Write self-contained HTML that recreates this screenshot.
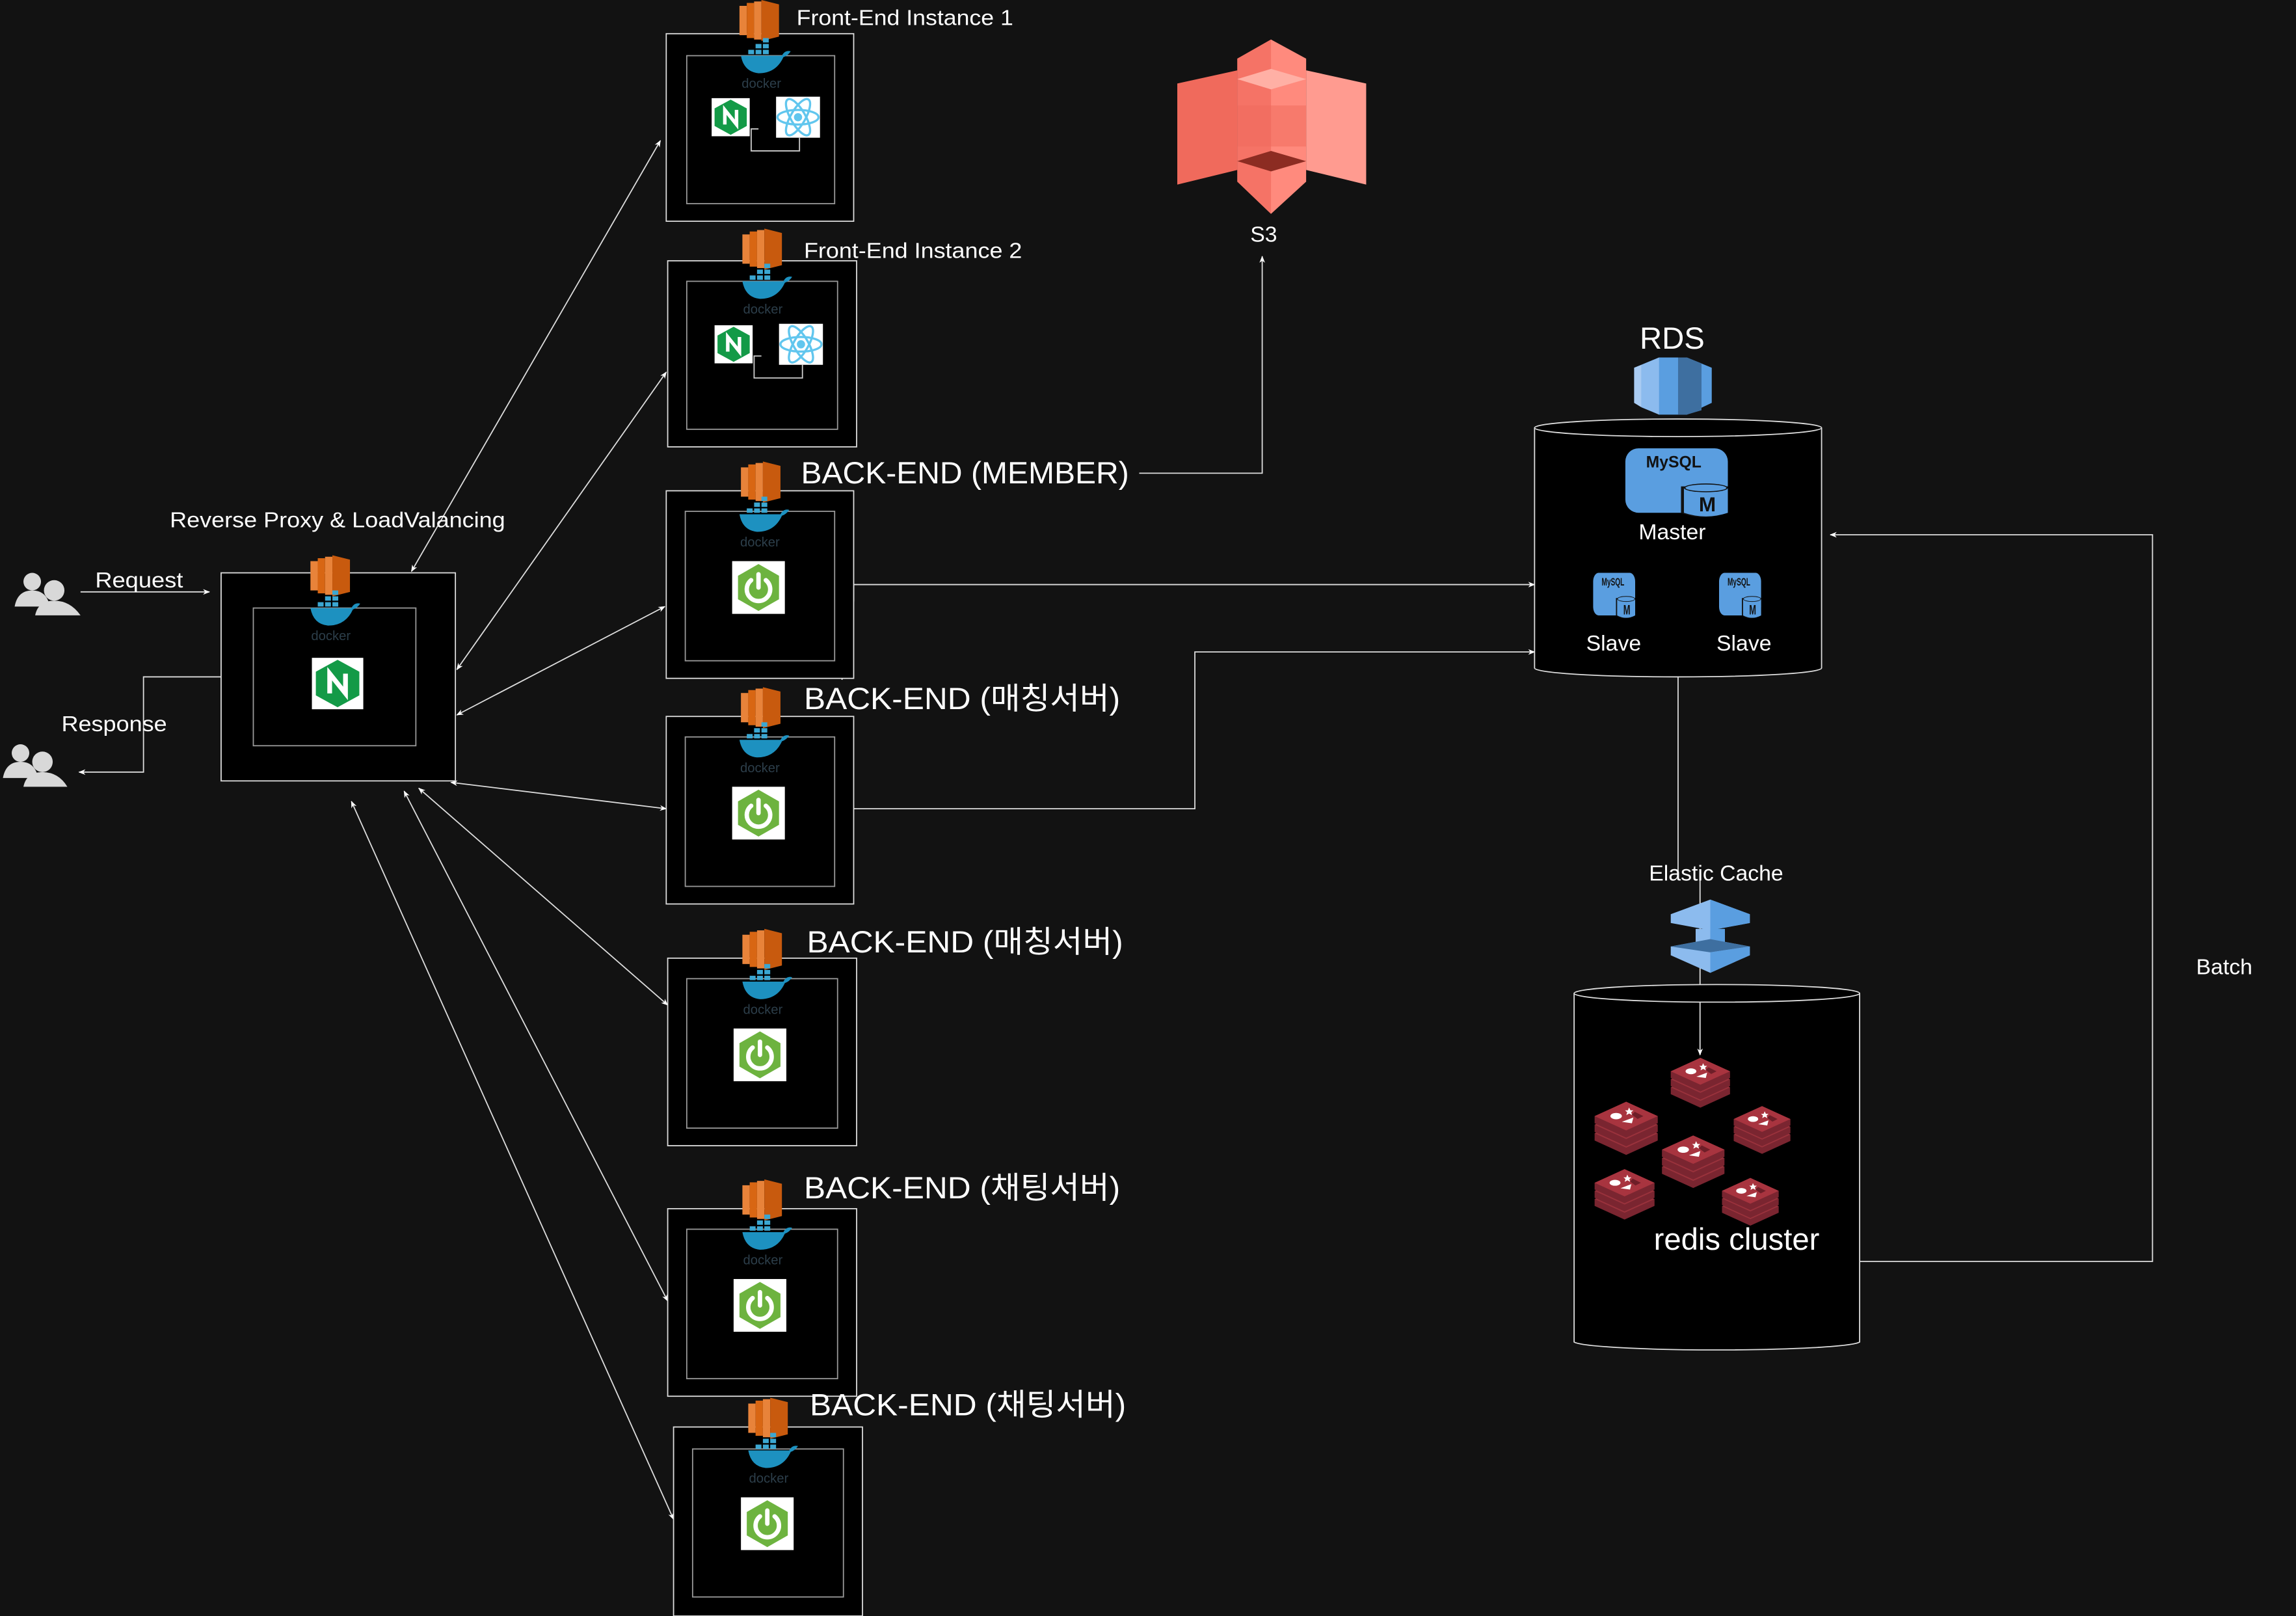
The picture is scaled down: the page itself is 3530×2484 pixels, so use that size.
<!DOCTYPE html>
<html><head><meta charset="utf-8"><style>
html,body{margin:0;padding:0;background:#121212;}
svg{display:block;}
text{font-family:"Liberation Sans","Noto Sans CJK KR",sans-serif;fill:#fff;}
</style></head><body>
<svg width="3530" height="2484" viewBox="0 0 1568 1103" preserveAspectRatio="none" xmlns="http://www.w3.org/2000/svg">
<defs>
<marker id="ar" viewBox="0 0 10 10" refX="9" refY="5" markerWidth="6" markerHeight="6" orient="auto-start-reverse"><path d="M0,1 L10,5 L0,9 L3,5z" fill="#fff"/></marker>
<g id="ec2">
<rect x="0" y="4" width="5" height="20" fill="#e8833a"/><rect x="5" y="2" width="5" height="24" fill="#d86613"/><rect x="10" y="1" width="5" height="26" fill="#e8833a"/><path d="M15,0 L27,3 L27,25 L15,28z" fill="#c85a0e"/>
</g>
<g id="dock">
<path d="M-14,0 L14,0 Q16,-4 20,-3 Q18,0 15,1 Q10,12 -2,12 Q-12,11 -14,0z" fill="#1d91c0"/>
<rect x="-9" y="-4" width="4" height="3" fill="#3ba7d2"/><rect x="-4" y="-4" width="4" height="3" fill="#3ba7d2"/><rect x="1" y="-4" width="4" height="3" fill="#3ba7d2"/><rect x="-4" y="-8" width="4" height="3" fill="#3ba7d2"/><rect x="1" y="-8" width="4" height="3" fill="#3ba7d2"/><rect x="1" y="-12" width="4" height="3" fill="#3ba7d2"/>
<text x="0" y="22" font-size="9" text-anchor="middle" style="fill:#2c3e4a">docker</text>
</g>
<g id="spring">
<rect x="0" y="0" width="36" height="36" fill="#fff"/>
<path d="M18,2 L32,10 L32,26 L18,34 L4,26 L4,10z" fill="#6db33f"/>
<path d="M13,13 A8,8 0 1 0 23,13" fill="none" stroke="#fff" stroke-width="3" stroke-linecap="round"/>
<line x1="18" y1="9" x2="18" y2="18" stroke="#fff" stroke-width="3" stroke-linecap="round"/>
</g>
<g id="nginx">
<rect x="0" y="0" width="26" height="26" fill="#fff"/>
<path d="M13,1 L24,7 L24,19 L13,25 L2,19 L2,7z" fill="#139a47"/>
<path d="M9,18 L9,8 L17,18 L17,8" fill="none" stroke="#fff" stroke-width="2.4"/>
</g>
<g id="react">
<rect x="0" y="0" width="30" height="28" fill="#fff"/>
<g transform="translate(15,14)" fill="none" stroke="#61c6ee" stroke-width="1.5">
<ellipse rx="14" ry="5"/><ellipse rx="14" ry="5" transform="rotate(60)"/><ellipse rx="14" ry="5" transform="rotate(-60)"/>
<circle r="2.8" fill="#61c6ee" stroke="none"/></g>
</g>
<g id="layer"><path d="M0,10 L22,0 L44,10 L44,15 L22,25 L0,15z" fill="#7a2530"/><path d="M0,10 L22,0 L44,10 L22,20z" fill="#9a323c"/></g>
<g id="redis">
<use href="#layer" y="12"/><use href="#layer" y="6"/>
<path d="M0,10 L22,0 L44,10 L44,15 L22,25 L0,15z" fill="#7a2530"/>
<path d="M0,10 L22,0 L44,10 L22,20z" fill="#a8343f"/>
<ellipse cx="15" cy="10" rx="4" ry="2.2" fill="#fff"/><path d="M19,14 L27,11 L26,15z" fill="#fff"/><path d="M24,4 l1,2 2,0 -1.5,1.3 .6,2 -2,-1.1 -2,1.1 .6,-2 -1.5,-1.3 2,0z" fill="#fff"/><path d="M28,7 L34,10 L30,12 L26,9z" fill="#6e1e28"/>
</g>
<g id="mysql">
<rect x="0" y="0" width="70" height="44" rx="9" fill="#5a9ee0"/>
<text x="33" y="13" font-size="11" font-weight="bold" text-anchor="middle" style="fill:#111">MySQL</text>
<path d="M38,26 L38,44 Q52,50 70,44 L70,26z" fill="#111"/>
<path d="M40,27 L40,44 Q55,49 70,44 L70,27z" fill="#5a9ee0"/>
<ellipse cx="55" cy="27" rx="15" ry="3" fill="#111"/><ellipse cx="55" cy="27" rx="14" ry="2.3" fill="#5a9ee0"/>
<text x="56" y="43" font-size="14" font-weight="bold" text-anchor="middle" style="fill:#111">M</text>
</g>
</defs>
<rect width="1568" height="1103" fill="#121212"/>

<g stroke="#ddd" stroke-width="0.8" fill="none">
<line x1="281" y1="390" x2="451" y2="96" marker-start="url(#ar)" marker-end="url(#ar)"/>
<line x1="312" y1="457" x2="455" y2="254" marker-start="url(#ar)" marker-end="url(#ar)"/>
<line x1="312" y1="488" x2="454" y2="414" marker-start="url(#ar)" marker-end="url(#ar)"/>
<line x1="308" y1="534" x2="455" y2="552" marker-start="url(#ar)" marker-end="url(#ar)"/>
<line x1="286" y1="538" x2="456" y2="686" marker-start="url(#ar)" marker-end="url(#ar)"/>
<line x1="276" y1="540" x2="456" y2="888" marker-start="url(#ar)" marker-end="url(#ar)"/>
<line x1="240" y1="547" x2="460" y2="1037" marker-start="url(#ar)" marker-end="url(#ar)"/>
<line x1="55" y1="404" x2="143" y2="404" marker-end="url(#ar)"/>
<polyline points="151,462 98,462 98,527 54,527" marker-end="url(#ar)"/>
<polyline points="778,323 862,323 862,175" marker-end="url(#ar)"/>
<line x1="583" y1="399" x2="1048" y2="399" marker-end="url(#ar)"/>
<polyline points="575,464 583,410 583,399"/>
<polyline points="583,552 816,552 816,445 1048,445" marker-end="url(#ar)"/>
<line x1="1146" y1="462" x2="1146" y2="598"/>
<line x1="1161" y1="600" x2="1161" y2="720" marker-end="url(#ar)"/>
<polyline points="1270,861 1470,861 1470,365 1250,365" marker-end="url(#ar)"/>
<polyline points="1102,390 1102,329 1109,329" marker-end="url(#ar)"/>
<polyline points="1188,390 1188,329 1181,329" marker-end="url(#ar)"/>
</g>

<rect x="151" y="391" width="160" height="142" fill="#000" stroke="#ddd" stroke-width="0.8"/>
<rect x="173" y="415" width="111" height="94" fill="#000" stroke="#999" stroke-width="0.8"/>
<use href="#ec2" x="212" y="379"/><use href="#dock" x="226" y="415"/>
<use href="#nginx" transform="translate(213,449) scale(1.35)"/>
<text x="116" y="360" font-size="15" textLength="229" lengthAdjust="spacingAndGlyphs">Reverse Proxy &amp; LoadValancing</text>
<text x="65" y="401" font-size="15" textLength="60" lengthAdjust="spacingAndGlyphs">Request</text>
<text x="42" y="499" font-size="15" textLength="72" lengthAdjust="spacingAndGlyphs">Response</text>
<g fill="#d8d8d8">
<circle cx="22" cy="397" r="6"/><path d="M10,414 Q12,403 22,403 Q32,403 34,414z"/>
<circle cx="37" cy="403" r="7"/><path d="M24,420 Q26,410 37,410 Q48,410 55,420z"/>
<circle cx="14" cy="514" r="6"/><path d="M2,531 Q4,520 14,520 Q24,520 26,531z"/>
<circle cx="29" cy="520" r="7"/><path d="M16,537 Q18,527 29,527 Q40,527 46,537z"/>
</g>

<rect x="455" y="23" width="128" height="128" fill="#000" stroke="#ddd" stroke-width="0.8"/>
<rect x="469" y="38" width="101" height="101" fill="#000" stroke="#999" stroke-width="0.8"/>
<use href="#ec2" x="505" y="0"/><use href="#dock" x="520" y="38"/>
<use href="#nginx" x="486" y="67"/><use href="#react" x="530" y="66"/>
<polyline points="546,94 546,103 513,103 513,88 518,88" fill="none" stroke="#ccc" stroke-width="0.8"/>
<text x="544" y="17" font-size="15" textLength="148" lengthAdjust="spacingAndGlyphs">Front-End Instance 1</text>

<rect x="456" y="178" width="129" height="127" fill="#000" stroke="#ddd" stroke-width="0.8"/>
<rect x="469" y="192" width="103" height="101" fill="#000" stroke="#999" stroke-width="0.8"/>
<use href="#ec2" x="507" y="156"/><use href="#dock" x="521" y="192"/>
<use href="#nginx" x="488" y="222"/><use href="#react" x="532" y="221"/>
<polyline points="548,249 548,258 515,258 515,243 520,243" fill="none" stroke="#ccc" stroke-width="0.8"/>
<text x="549" y="176" font-size="15" textLength="149" lengthAdjust="spacingAndGlyphs">Front-End Instance 2</text>

<rect x="455" y="335" width="128" height="128" fill="#000" stroke="#ddd" stroke-width="0.8"/>
<rect x="468" y="349" width="102" height="102" fill="#000" stroke="#999" stroke-width="0.8"/>
<use href="#ec2" x="506" y="315"/><use href="#dock" x="519" y="351"/><use href="#spring" x="500" y="383"/>
<text x="547" y="330" font-size="21" textLength="224" lengthAdjust="spacingAndGlyphs">BACK-END (MEMBER)</text>

<rect x="455" y="489" width="128" height="128" fill="#000" stroke="#ddd" stroke-width="0.8"/>
<rect x="468" y="503" width="102" height="102" fill="#000" stroke="#999" stroke-width="0.8"/>
<use href="#ec2" x="506" y="469"/><use href="#dock" x="519" y="505"/><use href="#spring" x="500" y="537"/>
<text x="549" y="484" font-size="21" textLength="216" lengthAdjust="spacingAndGlyphs">BACK-END (매칭서버)</text>

<rect x="456" y="654" width="129" height="128" fill="#000" stroke="#ddd" stroke-width="0.8"/>
<rect x="469" y="668" width="103" height="102" fill="#000" stroke="#999" stroke-width="0.8"/>
<use href="#ec2" x="507" y="634"/><use href="#dock" x="521" y="670"/><use href="#spring" x="501" y="702"/>
<text x="551" y="650" font-size="21" textLength="216" lengthAdjust="spacingAndGlyphs">BACK-END (매칭서버)</text>

<rect x="456" y="825" width="129" height="128" fill="#000" stroke="#ddd" stroke-width="0.8"/>
<rect x="469" y="839" width="103" height="102" fill="#000" stroke="#999" stroke-width="0.8"/>
<use href="#ec2" x="507" y="805"/><use href="#dock" x="521" y="841"/><use href="#spring" x="501" y="873"/>
<text x="549" y="818" font-size="21" textLength="216" lengthAdjust="spacingAndGlyphs">BACK-END (채팅서버)</text>

<rect x="460" y="974" width="129" height="129" fill="#000" stroke="#ddd" stroke-width="0.8"/>
<rect x="473" y="989" width="103" height="101" fill="#000" stroke="#999" stroke-width="0.8"/>
<use href="#ec2" x="511" y="954"/><use href="#dock" x="525" y="990"/><use href="#spring" x="506" y="1022"/>
<text x="553" y="966" font-size="21" textLength="216" lengthAdjust="spacingAndGlyphs">BACK-END (채팅서버)</text>

<g>
<path d="M804,57 L845,48 L845,116 L804,126z" fill="#f06a5c"/>
<path d="M892,48 L933,57 L933,126 L892,116z" fill="#ff9b90"/>
<path d="M845,40 L868,27 L892,40 L892,124 L868,146 L845,124z" fill="#ff8a7d"/>
<path d="M845,40 L868,27 L868,146 L845,124z" fill="#f57366"/>
<path d="M845,72 L892,72 L892,100 L845,100z" fill="#f06a5c" opacity="0.5"/>
<path d="M845,110 L868,103 L892,110 L868,117z" fill="#8c2c22"/>
<path d="M845,54 L868,61 L892,54 L868,47z" fill="#ffb0a5"/>
</g>
<text x="863" y="165" font-size="15" text-anchor="middle">S3</text>

<text x="1142" y="238" font-size="21" text-anchor="middle">RDS</text>
<path d="M1116,251 L1133,244 L1152,244 L1169,251 L1169,275 L1152,283 L1133,283 L1116,275z" fill="#5a9ee0"/>
<path d="M1116,251 L1121,249 L1121,278 L1116,275z" fill="#a9cbf2"/>
<path d="M1121,249 L1133,244 L1133,283 L1121,278z" fill="#8cbbee"/>
<path d="M1146,244 L1152,244 L1162,248 L1162,280 L1152,283 L1146,283z" fill="#3e6fa0"/>
<path d="M1048,292 L1048,456 A98,6 0 0 0 1244,456 L1244,292" fill="#000" stroke="#ddd" stroke-width="0.8"/>
<ellipse cx="1146" cy="292" rx="98" ry="6" fill="#000" stroke="#ddd" stroke-width="0.8"/>
<use href="#mysql" x="1110" y="306"/>
<text x="1142" y="368" font-size="15" text-anchor="middle">Master</text>
<use href="#mysql" transform="translate(1088,391) scale(0.41,0.66)"/>
<use href="#mysql" transform="translate(1174,391) scale(0.41,0.66)"/>
<text x="1102" y="444" font-size="15" text-anchor="middle">Slave</text>
<text x="1191" y="444" font-size="15" text-anchor="middle">Slave</text>

<text x="1172" y="601" font-size="15" text-anchor="middle">Elastic Cache</text>
<path d="M1141,624 L1168,614 L1195,624 L1195,630 L1168,635 L1141,630z" fill="#8cbbee"/>
<path d="M1168,614 L1195,624 L1195,630 L1168,635z" fill="#5a9ee0"/>
<rect x="1158" y="634" width="10" height="13" fill="#8cbbee"/><rect x="1168" y="634" width="10" height="13" fill="#5a9ee0"/>
<path d="M1141,646 L1168,641 L1195,646 L1195,652 L1168,664 L1141,652z" fill="#8cbbee"/>
<path d="M1141,646 L1168,641 L1195,646 L1168,650z" fill="#3e6fa0"/>
<path d="M1168,650 L1195,646 L1195,652 L1168,664z" fill="#5a9ee0"/>

<path d="M1075,678 L1075,916 A98,6 0 0 0 1270,916 L1270,678" fill="#000" stroke="#ddd" stroke-width="0.8"/>
<ellipse cx="1172.5" cy="678" rx="97.5" ry="6" fill="#000" stroke="#ddd" stroke-width="0.8"/>
<line x1="1161" y1="684" x2="1161" y2="720" stroke="#ddd" stroke-width="0.8" marker-end="url(#ar)"/>
<use href="#redis" transform="translate(1141,722) scale(0.92)"/>
<use href="#redis" transform="translate(1089,752) scale(0.98)"/>
<use href="#redis" transform="translate(1184,755) scale(0.88)"/>
<use href="#redis" transform="translate(1135,775) scale(0.97)"/>
<use href="#redis" transform="translate(1089,798) scale(0.93)"/>
<use href="#redis" transform="translate(1176,804) scale(0.88)"/>
<text x="1186" y="853" font-size="21" text-anchor="middle">redis cluster</text>
<text x="1519" y="665" font-size="15" text-anchor="middle">Batch</text>
</svg>
</body></html>
